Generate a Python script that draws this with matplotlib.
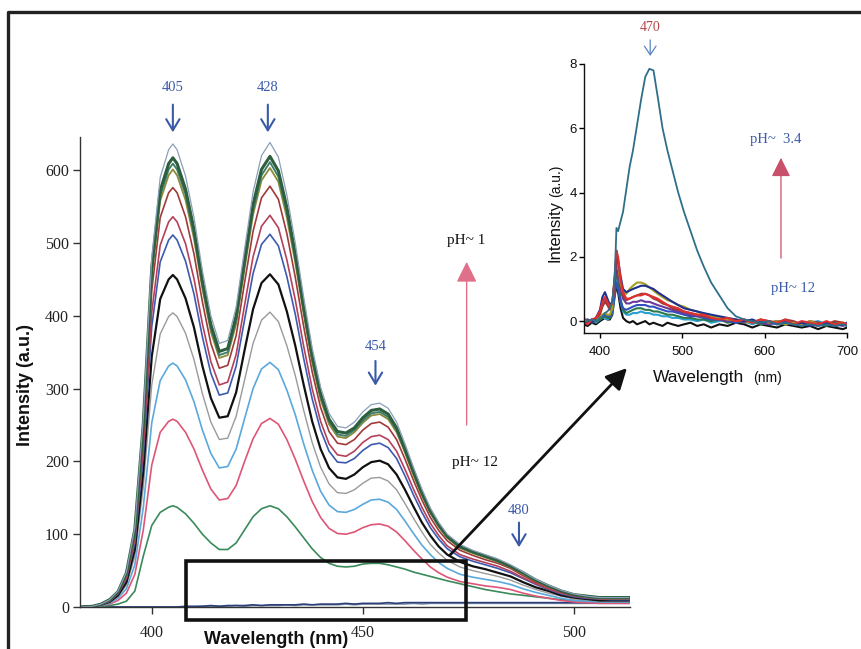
import matplotlib
matplotlib.use("Agg")
import matplotlib.pyplot as plt
from matplotlib.lines import Line2D
from matplotlib.patches import Rectangle

# ---------------- main spectra (emission, pH ~1 -> pH ~12) ----------------
wavelength = [383, 386, 388, 390, 392, 394, 396, 398, 400, 402, 404, 405, 406, 408,
              410, 412, 414, 416, 418, 420, 422, 424, 426, 428, 430, 432, 434, 436,
              438, 440, 442, 444, 446, 448, 450, 452, 454, 456, 458, 460, 462, 464,
              466, 468, 470, 473, 476, 479, 482, 485, 488, 491, 494, 497, 500, 503,
              506, 509, 513]

ph1 = [0, 1, 4, 10, 22, 48, 110, 260, 480, 590, 628, 636, 628, 592, 535, 462, 400, 362, 366, 412,
       492, 570, 620, 638, 618, 566, 500, 425, 356, 302, 266, 248, 246, 254, 268, 278, 280, 273, 254, 224,
       192, 162, 136, 116, 100, 86, 78, 72, 66, 58, 48, 38, 30, 23, 18, 15, 13, 13, 13]
s617 = [0, 1, 4, 10, 21, 47, 107, 252, 466, 572, 609, 617, 609, 574, 519, 448, 388, 351, 355, 400,
        477, 553, 601, 619, 599, 549, 485, 412, 345, 293, 258, 241, 239, 246, 260, 270, 272, 265, 246, 217,
        186, 157, 132, 113, 97, 83, 76, 70, 64, 56, 47, 37, 29, 22, 17, 15, 13, 13, 13]
s608 = [0, 1, 4, 10, 21, 46, 105, 249, 459, 565, 601, 609, 601, 567, 512, 442, 383, 346, 350, 394,
        471, 545, 593, 611, 591, 542, 479, 407, 341, 289, 255, 237, 235, 243, 256, 266, 268, 261, 243, 214,
        184, 155, 130, 111, 96, 82, 75, 69, 63, 55, 46, 36, 29, 22, 17, 14, 13, 12, 12]
s601 = [0, 1, 4, 9, 21, 45, 104, 246, 454, 558, 593, 601, 593, 559, 506, 437, 378, 342, 346, 389,
        465, 539, 586, 603, 584, 535, 473, 402, 336, 285, 251, 234, 232, 240, 253, 263, 265, 258, 240, 212,
        181, 153, 129, 110, 95, 81, 74, 68, 62, 55, 45, 36, 28, 22, 17, 14, 12, 12, 12]
s576 = [0, 1, 3, 9, 20, 43, 100, 236, 435, 535, 569, 576, 569, 536, 485, 419, 362, 328, 332, 373,
        446, 516, 562, 578, 560, 513, 453, 385, 323, 274, 241, 225, 223, 230, 243, 252, 254, 247, 230, 203,
        174, 147, 123, 105, 91, 78, 71, 65, 60, 53, 43, 34, 27, 21, 16, 14, 12, 12, 12]
s536 = [0, 1, 3, 8, 19, 40, 93, 219, 405, 497, 529, 536, 529, 499, 451, 389, 337, 305, 309, 347,
        415, 481, 523, 538, 521, 477, 422, 358, 300, 255, 224, 209, 207, 214, 226, 234, 236, 230, 214, 189,
        162, 137, 115, 98, 84, 72, 66, 61, 56, 49, 40, 32, 25, 19, 15, 13, 11, 11, 11]
s511 = [0, 1, 3, 8, 18, 39, 88, 209, 385, 474, 504, 511, 504, 475, 430, 371, 321, 291, 294, 331,
        395, 458, 498, 512, 496, 454, 402, 341, 286, 243, 214, 199, 198, 204, 215, 223, 225, 219, 204, 180,
        154, 130, 109, 93, 80, 69, 63, 58, 53, 47, 39, 31, 24, 18, 14, 12, 11, 10, 10]
s456 = [0, 1, 3, 7, 16, 34, 79, 186, 344, 423, 450, 456, 450, 424, 384, 331, 287, 260, 262, 295,
        353, 409, 445, 457, 443, 406, 359, 305, 255, 217, 191, 178, 176, 182, 192, 199, 201, 196, 182, 161,
        138, 116, 98, 83, 72, 62, 56, 52, 47, 42, 34, 27, 22, 16, 13, 11, 9, 9, 9]
s404 = [0, 1, 3, 6, 14, 30, 70, 165, 305, 375, 399, 404, 399, 376, 340, 293, 254, 230, 232, 262,
        312, 362, 394, 405, 392, 359, 318, 270, 226, 192, 169, 157, 156, 161, 170, 177, 178, 173, 161, 142,
        122, 103, 86, 74, 64, 55, 50, 46, 42, 37, 30, 24, 19, 15, 11, 10, 8, 8, 8]
s335 = [0, 1, 2, 5, 12, 25, 58, 137, 253, 311, 331, 335, 331, 312, 282, 243, 211, 191, 193, 217,
        259, 300, 327, 336, 326, 298, 264, 224, 188, 159, 140, 131, 130, 134, 141, 147, 148, 144, 134, 118,
        101, 85, 72, 61, 53, 45, 41, 38, 35, 31, 25, 20, 16, 12, 9, 8, 7, 7, 7]
s258 = [0, 0, 2, 4, 9, 19, 45, 106, 195, 240, 255, 258, 255, 240, 217, 188, 162, 147, 149, 167,
        200, 231, 252, 259, 251, 230, 203, 173, 145, 123, 108, 101, 100, 103, 109, 113, 114, 111, 103, 91,
        78, 66, 55, 47, 41, 35, 32, 29, 27, 24, 19, 15, 12, 9, 7, 6, 5, 5, 5]
s139 = [0, 0, 1, 2, 4, 8, 22, 70, 112, 130, 137, 139, 137, 128, 115, 100, 88, 79, 79, 88,
        106, 124, 135, 139, 135, 124, 110, 95, 80, 68, 60, 56, 55, 56, 59, 60, 60, 58, 55, 52,
        48, 45, 42, 39, 36, 32, 28, 24, 21, 18, 16, 14, 12, 10, 9, 8, 7, 7, 7]
ph12a = [0, 0, 0, 0, 0, 0, 0, 0, 0, 0, 0, 0, 0, 1, 1, 1, 2, 1, 2, 2,
         2, 3, 2, 3, 3, 3, 3, 4, 3, 4, 4, 4, 5, 4, 5, 5, 5, 6, 5, 6,
         6, 6, 6, 6, 6, 6, 6, 6, 6, 6, 6, 6, 6, 6, 6, 6, 6, 6, 6]
ph12b = [0, 0, 0, 0, 0, 0, 0, 0, 0, 0, 0, 0, 0, 0, 0, 1, 1, 1, 1, 2,
         1, 2, 2, 2, 2, 3, 2, 3, 3, 3, 3, 3, 4, 3, 4, 4, 4, 4, 4, 4,
         5, 4, 5, 5, 5, 5, 5, 5, 5, 5, 5, 5, 5, 5, 5, 5, 5, 5, 5]

main_series = [ph12b, ph12a, s139, s258, s335, s404, s456, s511, s536, s576, s601, s608, s617, ph1]
main_colors = ["#8a9aaa", "#2b3f7a", "#3a8a5a", "#de5577", "#5aa8dc", "#9a9a9a", "#111111",
               "#3c5ab0", "#b5405a", "#a03a3a", "#8c8a3a", "#3f7f6a", "#2d5e3e", "#8aa0b8"]
main_widths = [1.2, 1.2, 1.2, 1.2, 1.2, 1.0, 1.6, 1.2, 1.2, 1.2, 1.3, 1.4, 2.2, 0.9]

main_xticks = [400, 450, 500]
main_yticks = [0, 100, 200, 300, 400, 500, 600]

# band labels: text, arrow x, text y, arrow start y, arrow end y
band_labels = ["405", "428", "454", "480"]
band_x = [405, 427.5, 453, 487]
band_text_y = [713, 713, 358, 133]
band_arrow_y = [(690, 652), (690, 652), (338, 304), (116, 82)]

# ---------------- inset spectra (low-intensity band, 380-700 nm) ----------------
inset_wl = [380, 385, 390, 395, 400, 403, 406, 409, 412, 415, 418, 420, 422, 425, 428, 432, 436,
            440, 445, 450, 455, 460, 465, 470, 476, 482, 488, 495, 502, 510, 518, 526, 535, 545,
            555, 565, 575, 585, 595, 605, 615, 625, 635, 645, 655, 665, 675, 685, 695, 700]

ph34 = [-0.05, 0.0, 0.05, 0.0, 0.1, 0.15, 0.25, 0.3, 0.4, 0.6,
        1.4, 2.9, 2.8, 3.1, 3.4, 4.1, 4.8, 5.3, 6.1, 6.9,
        7.6, 7.85, 7.8, 7.0, 6.0, 5.3, 4.7, 4.0, 3.4, 2.8,
        2.2, 1.7, 1.2, 0.8, 0.4, 0.15, 0.05, 0.0, -0.05, 0.0,
        -0.1, -0.05, -0.1, -0.15, -0.1, -0.15, -0.1, -0.15, -0.1, -0.15]
low_red = [0.0, -0.1, 0.05, 0.1, 0.3, 0.6, 0.75, 0.6, 0.45, 0.55,
           1.4, 2.2, 2.0, 1.3, 0.9, 0.7, 0.7, 0.75, 0.8, 0.8,
           0.85, 0.8, 0.75, 0.7, 0.6, 0.5, 0.45, 0.4, 0.3, 0.25,
           0.2, 0.2, 0.1, 0.05, 0.1, 0.0, 0.05, -0.05, 0.05, 0.0,
           -0.05, 0.05, -0.1, 0.0, -0.05, -0.1, 0.0, -0.1, -0.05, -0.1]
low_navy = [-0.1, 0.0, -0.05, 0.1, 0.35, 0.75, 0.9, 0.7, 0.5, 0.6,
            1.3, 2.0, 1.9, 1.4, 1.0, 0.9, 0.95, 1.0, 1.05, 1.1,
            1.1, 1.05, 1.0, 0.9, 0.8, 0.7, 0.6, 0.5, 0.4, 0.35,
            0.3, 0.25, 0.2, 0.15, 0.1, 0.05, 0.0, 0.05, -0.05, 0.0,
            -0.1, -0.05, -0.1, -0.05, -0.15, -0.1, -0.05, -0.15, -0.1, -0.1]
low_olive = [0.05, -0.05, 0.0, 0.05, 0.1, 0.2, 0.25, 0.2, 0.2, 0.4,
             1.5, 2.1, 1.8, 1.2, 0.9, 0.85, 1.0, 1.1, 1.2, 1.2,
             1.15, 1.05, 0.95, 0.85, 0.75, 0.65, 0.6, 0.5, 0.45, 0.35,
             0.3, 0.2, 0.15, 0.1, 0.05, 0.05, 0.0, -0.05, 0.05, -0.05,
             0.0, -0.1, -0.05, -0.1, 0.0, -0.1, -0.05, -0.1, -0.05, -0.1]
low_black = [-0.1, -0.15, -0.05, -0.1, 0.0, 0.05, 0.1, 0.05, 0.05, 0.2,
             0.8, 1.1, 0.9, 0.4, 0.1, 0.0, -0.05, 0.0, -0.1, -0.05,
             0.0, -0.1, -0.05, -0.1, -0.15, -0.05, -0.1, -0.15, -0.1, -0.05,
             -0.15, -0.1, -0.2, -0.1, -0.15, -0.05, -0.1, -0.2, -0.1, -0.15,
             -0.2, -0.1, -0.15, -0.2, -0.15, -0.25, -0.15, -0.2, -0.25, -0.2]
low_green = [0.0, 0.05, -0.05, 0.0, 0.05, 0.1, 0.15, 0.1, 0.1, 0.3,
             1.1, 1.5, 1.3, 0.7, 0.35, 0.25, 0.3, 0.35, 0.4, 0.4,
             0.35, 0.35, 0.3, 0.3, 0.25, 0.2, 0.2, 0.15, 0.1, 0.1,
             0.05, 0.05, 0.0, 0.05, -0.05, 0.0, -0.05, 0.0, -0.1, -0.05,
             0.0, -0.1, -0.05, -0.1, -0.05, -0.1, -0.15, -0.05, -0.1, -0.15]
low_cyan = [0.1, 0.0, 0.05, -0.05, 0.05, 0.1, 0.1, 0.05, 0.1, 0.25,
            0.9, 1.3, 1.1, 0.6, 0.3, 0.2, 0.2, 0.25, 0.25, 0.3,
            0.25, 0.25, 0.2, 0.2, 0.15, 0.15, 0.1, 0.1, 0.05, 0.05,
            0.0, 0.05, -0.05, 0.0, 0.05, -0.05, 0.0, -0.1, 0.0, -0.05,
            -0.1, 0.0, -0.05, -0.1, -0.05, 0.0, -0.1, -0.05, -0.1, -0.05]
low_purple = [-0.05, 0.05, 0.0, 0.05, 0.25, 0.6, 0.7, 0.55, 0.4, 0.5,
              1.2, 1.6, 1.5, 1.0, 0.7, 0.55, 0.55, 0.6, 0.6, 0.65,
              0.6, 0.6, 0.55, 0.5, 0.45, 0.4, 0.35, 0.3, 0.25, 0.2,
              0.15, 0.15, 0.1, 0.05, 0.0, 0.05, -0.05, 0.0, -0.05, -0.1,
              0.0, -0.05, -0.1, -0.05, -0.1, -0.15, -0.05, -0.1, -0.15, -0.1]
low_blue = [0.0, -0.05, 0.05, 0.0, 0.1, 0.15, 0.2, 0.15, 0.15, 0.3,
            0.9, 1.2, 1.0, 0.6, 0.4, 0.35, 0.4, 0.45, 0.5, 0.5,
            0.5, 0.45, 0.45, 0.4, 0.35, 0.3, 0.3, 0.25, 0.2, 0.15,
            0.15, 0.1, 0.05, 0.05, 0.0, -0.05, 0.05, -0.05, 0.0, -0.1,
            -0.05, 0.0, -0.1, -0.05, -0.1, -0.05, -0.1, -0.15, -0.1, -0.05]
low_brown = [0.05, 0.0, -0.05, 0.05, 0.2, 0.45, 0.6, 0.5, 0.35, 0.45,
             1.3, 1.9, 1.7, 1.1, 0.8, 0.65, 0.7, 0.75, 0.8, 0.85,
             0.85, 0.8, 0.7, 0.65, 0.55, 0.5, 0.4, 0.35, 0.3, 0.25,
             0.2, 0.15, 0.1, 0.1, 0.05, 0.0, 0.05, -0.05, 0.05, 0.0,
             -0.05, 0.05, 0.0, -0.1, 0.0, -0.05, -0.1, 0.0, -0.05, -0.1]

inset_series = [low_black, low_cyan, low_green, low_blue, low_purple, low_brown,
                low_olive, low_navy, low_red, ph34]
inset_colors = ["#111111", "#2aa0d0", "#2a7a4a", "#3050c0", "#6a3a9a", "#a03838",
                "#a8a020", "#1f2f8f", "#e03030", "#2f6f8a"]
inset_widths = [1.5, 1.5, 1.5, 1.5, 1.5, 1.5, 1.5, 1.5, 1.5, 1.3]
inset_xticks = [400, 500, 600, 700]
inset_yticks = [0, 2, 4, 6, 8]

# ---------------- figure ----------------
W, H = 861, 649


def fx(px):
    return px / W


def fy(py):
    return 1 - py / H


serif = "Liberation Serif"
sans = "Liberation Sans"
blue_txt = "#3a5aa8"
pink = "#e0708a"

fig = plt.figure(figsize=(W / 100, H / 100), dpi=100)
fig.patch.set_facecolor("white")

# outer border (left and top edges)
fig.add_artist(Line2D([fx(8), fx(8), 1.0], [0.0, fy(12), fy(12)],
                      transform=fig.transFigure, color="#222222", lw=2.4))

ax = fig.add_axes([fx(80), fy(607), fx(630) - fx(80), fy(137.4) - fy(607)])
for y, c, lw in zip(main_series, main_colors, main_widths):
    ax.plot(wavelength, y, color=c, lw=lw, solid_joinstyle="round")

ax.set_xlim(383, 513.3)
ax.set_ylim(0, 645)
for s in ["top", "right"]:
    ax.spines[s].set_visible(False)
for s in ["left", "bottom"]:
    ax.spines[s].set_color("#333333")
    ax.spines[s].set_linewidth(1.0)
ax.set_xticks(main_xticks)
ax.set_yticks(main_yticks)
ax.tick_params(axis="both", direction="out", length=5, width=1, color="#333333",
               labelsize=11.5, labelcolor="#222222", labelfontfamily=serif)
ax.tick_params(axis="x", pad=8)
ax.tick_params(axis="y", pad=3)

fig.text(fx(276), fy(639), "Wavelength (nm)", ha="center", va="center",
         fontsize=13, fontweight="bold", family=sans, color="#111111")
fig.text(fx(26), fy(385), "Intensity (a.u.)", ha="center", va="center", rotation=90,
         fontsize=13, fontweight="bold", family=sans, color="#111111")

# band markers
for lab, x, ty, (y0, y1) in zip(band_labels, band_x, band_text_y, band_arrow_y):
    ax.text(x, ty, lab, ha="center", va="center", fontsize=10.5, family=serif, color=blue_txt)
    ax.annotate("", xy=(x, y1), xytext=(x, y0), annotation_clip=False,
                arrowprops=dict(arrowstyle="->,head_length=0.5,head_width=0.3", color=blue_txt,
                                lw=1.5, mutation_scale=16, shrinkA=0, shrinkB=0))

# pH trend
ax.text(474.6, 503, "pH~ 1", ha="center", va="center", fontsize=11, family=serif, color="#111111")
ax.text(476.5, 198, "pH~ 12", ha="center", va="center", fontsize=11, family=serif, color="#111111")
ax.annotate("", xy=(474.6, 474), xytext=(474.6, 250), annotation_clip=False,
            arrowprops=dict(arrowstyle="-|>,head_length=0.9,head_width=0.45", color=pink,
                            lw=1.0, mutation_scale=14, shrinkA=0, shrinkB=0))

# zoom box
ax.add_patch(Rectangle((408.1, -18), 474.4 - 408.1, 63 + 18, fill=False,
                       edgecolor="#111111", lw=2.6, clip_on=False, zorder=5))

# ---------------- inset ----------------
axi = fig.add_axes([fx(584), fy(333), fx(847) - fx(584), fy(64) - fy(333)])
for y, c, lw in zip(inset_series, inset_colors, inset_widths):
    axi.plot(inset_wl, y, color=c, lw=lw)
axi.set_xlim(380.6, 700)
axi.set_ylim(-0.37, 8)
axi.patch.set_alpha(0)
for s in ["top", "right"]:
    axi.spines[s].set_visible(False)
for s in ["left", "bottom"]:
    axi.spines[s].set_color("#111111")
    axi.spines[s].set_linewidth(1.0)
axi.set_xticks(inset_xticks)
axi.set_yticks(inset_yticks)
axi.tick_params(axis="both", direction="out", length=3.5, width=1, labelsize=9.5,
                labelfontfamily=sans, labelcolor="#111111")
axi.tick_params(axis="x", pad=6)
axi.tick_params(axis="y", pad=1.5)

fig.text(fx(653), fy(382), "Wavelength", ha="left", va="baseline", fontsize=12.5,
         family=sans, color="#111111")
fig.text(fx(753), fy(382), "(nm)", ha="left", va="baseline", fontsize=10,
         family=sans, color="#111111")
fig.text(fx(560), fy(262), "Intensity", ha="left", va="baseline", rotation=90,
         rotation_mode="anchor", fontsize=12, family=sans, color="#111111")
fig.text(fx(560), fy(197), "(a.u.)", ha="left", va="baseline", rotation=90,
         rotation_mode="anchor", fontsize=10, family=sans, color="#111111")

axi.text(460.5, 9.15, "470", ha="center", va="center", fontsize=10, family=serif,
         color="#b5474a", clip_on=False)
axi.annotate("", xy=(461, 8.25), xytext=(461, 8.75), annotation_clip=False,
             arrowprops=dict(arrowstyle="->,head_length=0.45,head_width=0.3", color="#5a86c0",
                             lw=0.9, mutation_scale=14, shrinkA=0, shrinkB=0))
axi.text(613, 5.64, "pH~  3.4", ha="center", va="center", fontsize=10.5, family=serif,
         color=blue_txt)
axi.text(634, 1.03, "pH~ 12", ha="center", va="center", fontsize=10.5, family=serif,
         color=blue_txt)
axi.annotate("", xy=(619.8, 5.08), xytext=(619.8, 1.96), annotation_clip=False,
             arrowprops=dict(arrowstyle="-|>,head_length=0.9,head_width=0.45", color="#c8506a",
                             lw=0.9, mutation_scale=13, shrinkA=0, shrinkB=0))

# connector from the zoom box to the inset
ax.annotate("", xy=(432.8, -1.46), xycoords=axi.transData, xytext=(470.6, 71),
            textcoords="data", annotation_clip=False,
            arrowprops=dict(arrowstyle="-|>,head_length=0.8,head_width=0.4", color="#111111",
                            lw=2.0, mutation_scale=16, shrinkA=0, shrinkB=0))

fig.savefig("out.png", dpi=100, facecolor="white")
